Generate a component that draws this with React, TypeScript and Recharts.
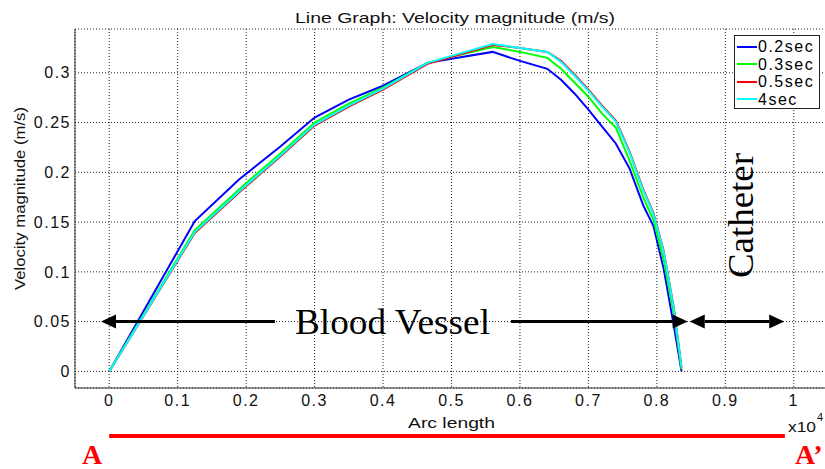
import { LineChart, Line, XAxis, YAxis, CartesianGrid, Legend, ReferenceLine } from 'recharts';

// arc length (x 10^4) sampled along the vessel
const arcLength = [0, 0.125, 0.19, 0.25, 0.3, 0.35, 0.4, 0.465, 0.5, 0.56, 0.6, 0.64, 0.66, 0.68, 0.7, 0.72, 0.74, 0.76, 0.78, 0.795, 0.81, 0.825, 0.836];

// velocity magnitude (m/s) per time step
const vel02 = [0, 0.151, 0.193, 0.226, 0.255, 0.273, 0.287, 0.31, 0.314, 0.321, 0.312, 0.304, 0.293, 0.279, 0.263, 0.246, 0.229, 0.204, 0.167, 0.146, 0.103, 0.045, 0];
const vel03 = [0, 0.142, 0.183, 0.219, 0.25, 0.269, 0.285, 0.31, 0.316, 0.326, 0.321, 0.315, 0.304, 0.29, 0.276, 0.259, 0.245, 0.212, 0.175, 0.152, 0.112, 0.056, 0.002];
const vel05 = [0, 0.139, 0.18, 0.216, 0.247, 0.266, 0.283, 0.309, 0.316, 0.328, 0.325, 0.321, 0.312, 0.298, 0.283, 0.267, 0.252, 0.221, 0.183, 0.159, 0.121, 0.063, 0.004];
const vel4 = [0, 0.14, 0.181, 0.217, 0.248, 0.267, 0.284, 0.31, 0.317, 0.329, 0.325, 0.321, 0.311, 0.297, 0.282, 0.266, 0.251, 0.22, 0.182, 0.158, 0.12, 0.062, 0.004];

const seriesNames = ['0.2sec', '0.3sec', '0.5sec', '4sec'];
const seriesColors = ['#0000ff', '#00ff00', '#ff0000', '#00ffff'];

const xTicks = [0, 0.1, 0.2, 0.3, 0.4, 0.5, 0.6, 0.7, 0.8, 0.9, 1];
const yTicks = [0, 0.05, 0.1, 0.15, 0.2, 0.25, 0.3];

const data = arcLength.map((arc, i) => ({ arc, s0: vel02[i], s1: vel03[i], s2: vel05[i], s3: vel4[i] }));

const SANS = '"Liberation Sans", Arial, sans-serif';
const SERIF = '"Liberation Serif", "Times New Roman", serif';
const tickStyle = { fontSize: 16, fill: '#111', fontFamily: SANS, letterSpacing: 1.5 };
const fmt = (v: number) => Number(v.toFixed(2)).toString();

// black annotation arrow along y = const
const arrow = (left: boolean, right: boolean) => (p: any) => {
    const { x1, x2, y1 } = p;
    const L = 15, H = 7;
    const a = left ? x1 + L : x1;
    const b = right ? x2 - L : x2;
    return (
        <g>
            <line x1={a} y1={y1} x2={b} y2={y1} stroke="#000" strokeWidth={3} />
            {left && <polygon points={`${x1},${y1} ${x1 + L},${y1 - H} ${x1 + L},${y1 + H}`} fill="#000" />}
            {right && <polygon points={`${x2},${y1} ${x2 - L},${y1 - H} ${x2 - L},${y1 + H}`} fill="#000" />}
        </g>
    );
};

const LegendBox = () => (
    <div style={{ boxSizing: 'border-box', width: 86, height: 74, border: '1.5px solid #222', background: '#fff', padding: '2px 0 0 2px' }}>
        {seriesNames.map((name, i) => (
            <div key={name} style={{ display: 'flex', alignItems: 'center', height: 17.5 }}>
                <div style={{ width: 20, height: 2, background: seriesColors[i], marginRight: 1 }} />
                <span style={{ fontFamily: SANS, fontSize: 16, letterSpacing: 1.5, color: '#000', lineHeight: '17px' }}>{name}</span>
            </div>
        ))}
    </div>
);

export default function App() {
    return (
        <div style={{ position: 'absolute', left: 0, top: 0, width: 825, height: 469, overflow: 'hidden', background: '#fff' }}>
            <LineChart width={832} height={469} data={data} margin={{ top: 29, right: 4, bottom: 0, left: 0 }}>
                <CartesianGrid strokeDasharray="1 2" stroke="#222" />
                <XAxis
                    dataKey="arc"
                    type="number"
                    domain={[-0.05, 1.05]}
                    ticks={xTicks}
                    tickFormatter={fmt}
                    height={81}
                    tickSize={0}
                    tickMargin={7}
                    tickLine={false}
                    axisLine={{ stroke: '#333' }}
                    tick={tickStyle}
                />
                <XAxis
                    xAxisId="top"
                    orientation="top"
                    type="number"
                    domain={[-0.05, 1.05]}
                    height={0}
                    tick={false}
                    tickLine={false}
                    axisLine={{ stroke: '#333' }}
                />
                <YAxis
                    type="number"
                    domain={[-0.0167, 0.344]}
                    ticks={yTicks}
                    tickFormatter={fmt}
                    width={75}
                    tickSize={0}
                    tickMargin={4}
                    tickLine={false}
                    axisLine={{ stroke: '#333' }}
                    tick={tickStyle}
                />
                {['s0', 's1', 's2', 's3'].map((key, i) => (
                    <Line
                        key={key}
                        dataKey={key}
                        name={seriesNames[i]}
                        stroke={seriesColors[i]}
                        strokeWidth={2}
                        dot={false}
                        type="linear"
                        isAnimationActive={false}
                    />
                ))}
                {/* Blood Vessel / Catheter arrows at v = 0.05 */}
                <ReferenceLine segment={[{ x: -0.012, y: 0.05 }, { x: 0.242, y: 0.05 }]} shape={arrow(true, false)} />
                <ReferenceLine segment={[{ x: 0.587, y: 0.05 }, { x: 0.845, y: 0.05 }]} shape={arrow(false, true)} />
                <ReferenceLine segment={[{ x: 0.848, y: 0.05 }, { x: 0.986, y: 0.05 }]} shape={arrow(true, true)} />
                {/* A - A' section line */}
                <ReferenceLine
                    segment={[{ x: 0, y: -0.065 }, { x: 0.987, y: -0.065 }]}
                    ifOverflow="visible"
                    stroke="#ff0000"
                    strokeWidth={4}
                />
                <Legend
                    layout="horizontal"
                    verticalAlign="middle"
                    align="center"
                    wrapperStyle={{ left: 734, top: 35, width: 86, height: 74, right: 'auto' }}
                    content={() => <LegendBox />}
                />
            </LineChart>

            <svg width={825} height={469} style={{ position: 'absolute', left: 0, top: 0, pointerEvents: 'none' }}>
                <text x={455} y={22.5} textAnchor="middle" fontFamily={SANS} fontSize={14} textLength={320} lengthAdjust="spacingAndGlyphs" fill="#111">
                    Line Graph: Velocity magnitude (m/s)
                </text>
                <text x={25} y={198.5} transform="rotate(-90, 25, 198.5)" textAnchor="middle" fontFamily={SANS} fontSize={14} textLength={183} lengthAdjust="spacingAndGlyphs" fill="#111">
                    Velocity magnitude (m/s)
                </text>
                <text x={451.5} y={428.3} textAnchor="middle" fontFamily={SANS} fontSize={15} textLength={87} lengthAdjust="spacingAndGlyphs" fill="#111">
                    Arc length
                </text>
                <text x={392.5} y={334} textAnchor="middle" fontFamily={SERIF} fontSize={36} textLength={195} lengthAdjust="spacingAndGlyphs" fill="#000">
                    Blood Vessel
                </text>
                <text x={753} y={215.5} transform="rotate(-90, 753, 215.5)" textAnchor="middle" fontFamily={SERIF} fontSize={36} textLength={125} lengthAdjust="spacingAndGlyphs" fill="#000">
                    Catheter
                </text>
                <text x={788} y={432} fontFamily={SANS} fontSize={15} textLength={28} lengthAdjust="spacingAndGlyphs" fill="#111">x10</text>
                <text x={817} y={420.5} fontFamily={SANS} fontSize={11} fill="#111">4</text>
                <text x={92} y={464} textAnchor="middle" fontFamily={SERIF} fontWeight="bold" fontSize={28} fill="#ff0000">A</text>
                <text x={795} y={464} fontFamily={SERIF} fontWeight="bold" fontSize={28} fill="#ff0000">A’</text>
            </svg>
        </div>
    );
}
